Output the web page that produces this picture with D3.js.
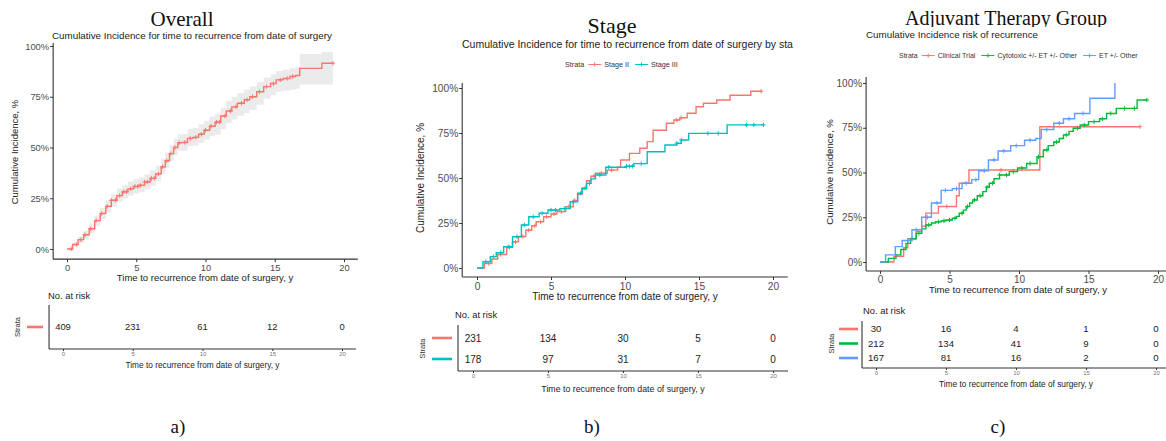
<!DOCTYPE html>
<html>
<head>
<meta charset="utf-8">
<script src="https://cdn.jsdelivr.net/npm/d3@7"></script>
<style>
  body { margin: 0; background: #fff; }
  svg { display: block; }
  text { font-family: "Liberation Sans", Arial, sans-serif; }
</style>
</head>
<body>
<svg id="chart" width="1166" height="441"></svg>
<script>
// shared axis values
let xTicks = [0, 5, 10, 15, 20]
let yTicks = [0, 0.25, 0.5, 0.75, 1]
let riskTimes = [0, 5, 10, 15, 20]

// a) overall cumulative incidence (%), with confidence band
let overallTime = [0, 0.4, 0.8, 1.2, 1.6, 2.0, 2.4, 2.8, 3.2, 3.6, 4.0, 4.4, 4.8, 5.2, 5.6, 6.0, 6.4, 6.8, 7.1, 7.4, 7.7, 8.0, 8.3, 8.7, 9.1, 9.5, 9.9, 10.3, 10.7, 11.1, 11.5, 11.9, 12.3, 12.8, 13.2, 13.7, 14.2, 14.7, 15.1, 15.6, 16.1, 16.5, 16.8, 18.4, 19.2]
let overallCI = [0, 2.2, 4.6, 7.0, 10.0, 14.0, 17.5, 21.0, 24.0, 26.3, 28.2, 29.6, 30.8, 31.4, 33.0, 34.8, 37.0, 40.5, 43.5, 47.0, 50.0, 52.3, 52.5, 54.5, 55.0, 56.5, 58.5, 60.5, 62.5, 65.5, 68.0, 70.0, 71.8, 73.5, 75.0, 77.5, 80.0, 81.5, 83.3, 84.0, 85.0, 85.5, 89.0, 91.5, 91.5]
let overallHigh = [0, 3.2, 6.2, 9.0, 12.2, 16.5, 20.2, 24.0, 27.2, 29.8, 31.7, 33.3, 34.5, 35.2, 36.7, 38.8, 41.0, 44.6, 47.5, 51.2, 54.3, 56.5, 56.6, 59.2, 59.6, 61.4, 63.2, 65.3, 66.5, 69.5, 73.0, 75.0, 76.8, 78.6, 80.0, 82.3, 84.5, 86.0, 87.7, 88.3, 89.0, 89.6, 96.0, 97.0, 97.0]
let overallLow = [0, 1.2, 3.0, 5.0, 7.8, 11.5, 14.8, 18.0, 20.8, 23.2, 24.9, 26.3, 27.4, 28.0, 29.4, 31.2, 33.6, 36.9, 39.9, 43.3, 46.2, 48.3, 48.4, 50.6, 51.0, 52.4, 54.0, 55.5, 56.3, 59.0, 62.0, 63.8, 65.5, 67.0, 68.5, 71.0, 74.0, 75.7, 77.5, 78.0, 78.5, 79.0, 81.0, 81.0, 81.0]
let overallCensor = [0.3, 0.7, 1.0, 1.3, 1.7, 2.1, 2.5, 2.9, 3.2, 3.5, 3.8, 4.1, 4.3, 4.6, 4.9, 5.1, 5.3, 5.6, 5.8, 6.1, 6.3, 6.6, 6.9, 7.2, 7.5, 7.8, 8.1, 8.5, 8.9, 9.3, 9.7, 10.0, 10.4, 10.8, 11.0, 11.4, 11.8, 12.2, 12.6, 13.0, 13.4, 13.9, 14.4, 14.9, 15.4, 15.9, 16.3, 19.2]
let overallRisk = [409, 231, 61, 12, 0]

// b) by stage
let stage2Time = [0, 0.5, 1.0, 1.4, 2.0, 2.4, 2.8, 3.3, 3.7, 4.0, 4.5, 5.0, 5.4, 6.0, 6.5, 6.8, 7.1, 7.4, 7.7, 8.0, 8.8, 9.5, 9.7, 10.3, 11.0, 11.5, 11.9, 12.8, 13.3, 13.7, 14.2, 14.8, 15.3, 16.2, 17.1, 18.5, 19.2]
let stage2CI = [0, 2.5, 5.0, 7.5, 11.5, 14.5, 17.5, 21.0, 23.5, 25.7, 28.5, 30.0, 31.3, 34.0, 37.5, 41.0, 44.5, 48.5, 51.0, 52.6, 54.4, 56.0, 60.0, 63.7, 66.5, 70.2, 76.5, 80.4, 82.2, 83.5, 86.0, 89.6, 91.5, 93.3, 96.0, 98.2, 98.2]
let stage2Censor = [0.8, 1.6, 2.2, 2.6, 3.1, 3.5, 3.9, 4.3, 4.7, 5.2, 5.7, 6.2, 6.6, 7.3, 7.9, 8.4, 9.1, 13.5, 13.8, 19.2]
let stage3Time = [0, 0.4, 0.9, 1.3, 1.8, 2.4, 3.0, 3.5, 4.2, 4.8, 5.6, 6.3, 6.8, 7.1, 7.4, 7.7, 8.0, 8.7, 10.1, 10.6, 11.5, 12.7, 13.5, 13.8, 14.3, 16.9, 19.35]
let stage3CI = [0, 3.5, 6.3, 8.5, 11.8, 17.4, 23.9, 28.5, 30.4, 32.2, 33.0, 36.8, 41.5, 44.0, 47.0, 49.5, 51.7, 56.0, 56.5, 58.0, 64.6, 68.3, 69.3, 71.1, 74.8, 79.5, 79.5]
let stage3Censor = [0.6, 1.1, 1.6, 2.1, 2.7, 3.2, 3.8, 4.4, 5.0, 5.3, 5.9, 6.5, 7.0, 7.6, 8.3, 8.9, 10.1, 10.3, 10.5, 11.1, 13.5, 13.8, 15.6, 16.3, 18.2, 18.7, 19.35]
let stage2Risk = [231, 134, 30, 5, 0]
let stage3Risk = [178, 97, 31, 7, 0]

// c) by adjuvant therapy group
let trialTime = [0, 1.0, 1.7, 2.0, 2.6, 3.0, 3.3, 4.2, 5.5, 5.7, 6.4, 11.5, 18.7]
let trialCI = [0, 3.2, 8.0, 13.0, 17.0, 20.0, 27.3, 31.0, 37.0, 44.0, 51.4, 75.6, 75.6]
let trialCensor = [4.8, 8.7, 18.7]
let cytoTime = [0, 0.6, 1.15, 1.5, 1.87, 2.2, 2.6, 3.0, 3.3, 3.7, 4.0, 4.4, 4.75, 5.2, 5.5, 5.7, 6.0, 6.2, 6.45, 6.67, 7.0, 7.4, 7.65, 7.86, 8.2, 8.6, 9.3, 9.9, 10.55, 11.3, 11.75, 12.1, 12.5, 12.9, 13.2, 13.6, 13.9, 14.4, 15.0, 15.8, 16.3, 17.0, 18.5, 19.2]
let cytoCI = [0, 2.0, 4.0, 7.0, 10.4, 13.0, 16.0, 18.5, 20.7, 21.8, 22.5, 23.0, 23.5, 24.4, 25.5, 27.2, 29.0, 31.0, 33.0, 34.6, 37.0, 39.3, 41.8, 44.0, 46.5, 48.6, 50.5, 52.5, 55.0, 58.8, 62.6, 65.0, 67.0, 69.0, 71.0, 73.0, 74.7, 76.5, 78.4, 80.0, 83.0, 85.8, 90.5, 90.5]
let cytoCensor = [2.3, 2.8, 3.5, 4.2, 4.6, 5.0, 5.4, 5.9, 6.3, 6.8, 7.2, 7.7, 8.1, 8.6, 9.1, 9.6, 10.2, 10.8, 11.4, 12.0, 12.7, 13.4, 14.2, 14.7, 15.4, 16.0, 16.6, 17.6, 18.3, 19.2]
let etTime = [0, 0.4, 1.1, 1.6, 2.3, 3.0, 3.7, 4.4, 5.2, 5.9, 6.6, 7.1, 7.8, 8.5, 9.4, 10.4, 11.2, 11.6, 12.5, 13.2, 14.0, 15.1, 16.9]
let etCI = [0, 4, 8.6, 12, 18, 25, 33, 40, 41, 44, 46, 51, 57, 62, 65, 68, 69, 74, 77.5, 80, 83, 91.5, 100]
let etCensor = [2.0, 2.6, 3.4, 4.1, 4.7, 5.5, 6.2, 6.9, 7.5, 8.2, 8.9, 9.8, 10.8, 12.0, 12.9, 13.6, 14.6]
let trialRisk = [30, 16, 4, 1, 0]
let cytoRisk = [212, 134, 41, 9, 0]
let etRisk = [167, 81, 16, 2, 0]

let red = "#F8766D", teal = "#00BFC4", green = "#00BA38", blue = "#619CFF"
let axisColor = "#333", tickColor = "#4d4d4d"
let serif = "'Liberation Serif', 'Times New Roman', serif"

let svg = d3.select("#chart")

// value of a step function at time t
function stepAt(times, values, t) {
  let i = d3.bisectRight(times, t) - 1
  return values[Math.max(0, i)]
}

function plusPath(s) {
  return `M${-s},0H${s}M0,${-s}V${s}`
}

function drawPanel(cfg) {
  let g = svg.append("g")

  let x = d3.scaleLinear().domain([0, 20]).range([cfg.x0, cfg.x20])
  let y = d3.scaleLinear().domain([0, 1]).range([cfg.y0, cfg.y100])

  // title, clipped at the bottom where the source image cut it
  let titleG = g.append("g")
  if (cfg.titleClip) {
    let id = "clip-" + cfg.key
    svg.append("clipPath").attr("id", id)
      .append("rect").attr("x", cfg.titleX - 200).attr("y", 0).attr("width", 400).attr("height", cfg.titleClip)
    titleG.attr("clip-path", `url(#${id})`)
  }
  titleG.append("text")
    .attr("x", cfg.titleX).attr("y", cfg.titleY)
    .attr("text-anchor", "middle")
    .style("font-family", serif)
    .attr("font-size", cfg.titleSize)
    .attr("fill", "#111")
    .text(cfg.title)

  g.append("text")
    .attr("x", cfg.subX).attr("y", cfg.subY)
    .attr("text-anchor", cfg.subAnchor)
    .attr("font-size", cfg.subSize)
    .attr("fill", "#222")
    .text(cfg.subtitle)

  // legend at top
  if (cfg.legendY) {
    let lg = g.append("g").attr("transform", `translate(${cfg.legendX}, ${cfg.legendY})`)
    let cx = 0
    let lab = lg.append("text").attr("x", cx).attr("font-size", cfg.legendSize).attr("fill", "#333").text("Strata")
    cx += lab.node().getComputedTextLength() + 4
    cfg.series.forEach(s => {
      lg.append("line")
        .attr("x1", cx).attr("x2", cx + 13)
        .attr("y1", -cfg.legendSize * 0.35).attr("y2", -cfg.legendSize * 0.35)
        .attr("stroke", s.color).attr("stroke-width", 1)
      lg.append("path")
        .attr("transform", `translate(${cx + 6.5}, ${-cfg.legendSize * 0.35})`)
        .attr("d", plusPath(2)).attr("stroke", s.color).attr("stroke-width", 1)
      cx += 16
      let t = lg.append("text").attr("x", cx).attr("font-size", cfg.legendSize).attr("fill", "#333").text(s.name)
      cx += t.node().getComputedTextLength() + 6
    })
  }

  // axes
  let yAxis = g.append("g")
    .attr("transform", `translate(${x(-1)}, 0)`)
    .call(d3.axisLeft(y).tickValues(yTicks).tickFormat(d3.format(".0%")).tickSize(3).tickPadding(1))
  let xAxis = g.append("g")
    .attr("transform", `translate(0, ${y(-0.05)})`)
    .call(d3.axisBottom(x).tickValues(xTicks).tickSize(3).tickPadding(cfg.xPad))
  ;[yAxis, xAxis].forEach(a => {
    a.select(".domain").remove()
    a.selectAll(".tick line").attr("stroke", axisColor)
    a.selectAll(".tick text").attr("fill", tickColor).attr("font-size", cfg.tickSize)
      .style("font-family", "'Liberation Sans', Arial, sans-serif")
  })
  g.append("line")
    .attr("x1", x(-1)).attr("x2", x(-1)).attr("y1", cfg.axisTop).attr("y2", y(-0.05))
    .attr("stroke", axisColor).attr("stroke-width", 1.1)
  g.append("line")
    .attr("x1", x(-1)).attr("x2", x(21)).attr("y1", y(-0.05)).attr("y2", y(-0.05))
    .attr("stroke", axisColor).attr("stroke-width", 1.1)

  g.append("text")
    .attr("transform", `translate(${cfg.yTitleX}, ${cfg.yTitleY}) rotate(-90)`)
    .attr("text-anchor", "middle")
    .attr("font-size", cfg.axisTitleSize)
    .attr("fill", "#222")
    .text("Cumulative Incidence, %")
  g.append("text")
    .attr("x", cfg.xTitleX).attr("y", cfg.xTitleY)
    .attr("text-anchor", "middle")
    .attr("font-size", cfg.axisTitleSize)
    .attr("fill", "#222")
    .text("Time to recurrence from date of surgery, y")

  // confidence band
  if (cfg.band) {
    let area = d3.area()
      .curve(d3.curveStepAfter)
      .x(d => x(d.t))
      .y0(d => y(d.lo / 100))
      .y1(d => y(d.hi / 100))
    let bandData = cfg.band.time.map((t, i) => ({ t: t, lo: cfg.band.low[i], hi: cfg.band.high[i] }))
    g.append("path").datum(bandData).attr("d", area).attr("fill", "#ebebeb")
  }

  // step curves and censor marks
  let line = d3.line().curve(d3.curveStepAfter).x(d => x(d.t)).y(d => y(d.v / 100))
  cfg.series.forEach(s => {
    let pts = s.time.map((t, i) => ({ t: t, v: s.ci[i] }))
    g.append("path").datum(pts)
      .attr("d", line)
      .attr("fill", "none")
      .attr("stroke", s.color)
      .attr("stroke-width", 1.4)
    g.selectAll(null)
      .data(s.censor)
      .enter()
      .append("path")
      .attr("transform", d => `translate(${x(d)}, ${y(stepAt(s.time, s.ci, d) / 100)})`)
      .attr("d", plusPath(2.2))
      .attr("stroke", s.color)
      .attr("stroke-width", 1)
  })

  // risk table
  let rx = d3.scaleLinear().domain([0, 20]).range([cfg.risk.x0, cfg.risk.x20])
  let ry = d3.scalePoint().domain(cfg.series.map(s => s.name)).range(cfg.risk.rows)

  g.append("text")
    .attr("x", cfg.risk.labelX).attr("y", cfg.risk.labelY)
    .attr("font-size", 9.4)
    .attr("fill", "#222")
    .text("No. at risk")

  g.append("line")
    .attr("x1", rx(-1)).attr("x2", rx(-1)).attr("y1", cfg.risk.top).attr("y2", cfg.risk.bottom)
    .attr("stroke", axisColor).attr("stroke-width", 1.1)
  g.append("line")
    .attr("x1", rx(-1)).attr("x2", rx(21)).attr("y1", cfg.risk.bottom).attr("y2", cfg.risk.bottom)
    .attr("stroke", axisColor).attr("stroke-width", 1.1)

  let rAxis = g.append("g")
    .attr("transform", `translate(0, ${cfg.risk.bottom})`)
    .call(d3.axisBottom(rx).tickValues(xTicks).tickSize(2).tickPadding(1))
  rAxis.select(".domain").remove()
  rAxis.selectAll(".tick line").attr("stroke", axisColor)
  rAxis.selectAll(".tick text").attr("fill", "#777").attr("font-size", 6)
    .style("font-family", "'Liberation Sans', Arial, sans-serif")

  g.append("text")
    .attr("x", rx(10)).attr("y", cfg.risk.titleY)
    .attr("text-anchor", "middle")
    .attr("font-size", cfg.risk.titleSize)
    .attr("fill", "#222")
    .text("Time to recurrence from date of surgery, y")

  g.append("text")
    .attr("transform", `translate(${cfg.risk.strataX}, ${d3.mean(cfg.risk.rows)}) rotate(-90)`)
    .attr("text-anchor", "middle")
    .attr("font-size", 7.5)
    .attr("fill", "#333")
    .text("Strata")

  cfg.series.forEach(s => {
    g.append("line")
      .attr("x1", cfg.risk.keyX[0]).attr("x2", cfg.risk.keyX[1])
      .attr("y1", ry(s.name)).attr("y2", ry(s.name))
      .attr("stroke", s.color).attr("stroke-width", 2.6)
    g.selectAll(null)
      .data(s.risk)
      .enter()
      .append("text")
      .attr("x", (d, i) => rx(riskTimes[i]))
      .attr("y", ry(s.name))
      .attr("dy", "0.36em")
      .attr("text-anchor", "middle")
      .attr("font-size", cfg.risk.numSize)
      .attr("fill", "#222")
      .text(d => d)
  })

  g.append("text")
    .attr("x", cfg.letterX).attr("y", 433)
    .attr("text-anchor", "middle")
    .style("font-family", serif)
    .attr("font-size", 19)
    .attr("fill", "#111")
    .text(cfg.letter)
}

drawPanel({
  key: "a", title: "Overall", titleX: 182, titleY: 26, titleSize: 21,
  subtitle: "Cumulative Incidence for time to recurrence from date of surgery",
  subX: 192, subY: 39, subAnchor: "middle", subSize: 9.8,
  x0: 67, x20: 344, y0: 249, y100: 46, axisTop: 43,
  tickSize: 9.4, xPad: 2, axisTitleSize: 9.5,
  yTitleX: 18, yTitleY: 152, xTitleX: 205, xTitleY: 281,
  band: { time: overallTime, low: overallLow, high: overallHigh },
  series: [{ name: "All", color: red, time: overallTime, ci: overallCI, censor: overallCensor, risk: overallRisk }],
  risk: { x0: 63, x20: 342, rows: [327, 327], top: 305, bottom: 349, labelX: 48, labelY: 299,
    titleY: 368, titleSize: 8.3, strataX: 20, keyX: [27, 43], numSize: 9.4 },
  letter: "a)", letterX: 178
})

drawPanel({
  key: "b", title: "Stage", titleX: 612, titleY: 33, titleSize: 22,
  subtitle: "Cumulative Incidence for time to recurrence from date of surgery by sta",
  subX: 462, subY: 48, subAnchor: "start", subSize: 10.5,
  legendX: 565, legendY: 67, legendSize: 7.2,
  x0: 477, x20: 773, y0: 268, y100: 88, axisTop: 83,
  tickSize: 10.2, xPad: 3, axisTitleSize: 10,
  yTitleX: 424, yTitleY: 178, xTitleX: 625, xTitleY: 300,
  series: [
    { name: "Stage II", color: red, time: stage2Time, ci: stage2CI, censor: stage2Censor, risk: stage2Risk },
    { name: "Stage III", color: teal, time: stage3Time, ci: stage3CI, censor: stage3Censor, risk: stage3Risk }
  ],
  risk: { x0: 473, x20: 773, rows: [338, 359], top: 325, bottom: 371, labelX: 455, labelY: 318,
    titleY: 392, titleSize: 8.8, strataX: 425, keyX: [432, 452], numSize: 10 },
  letter: "b)", letterX: 592
})

drawPanel({
  key: "c", title: "Adjuvant Therapy Group", titleX: 1006, titleY: 25, titleSize: 20, titleClip: 27,
  subtitle: "Cumulative Incidence risk of recurrence",
  subX: 866, subY: 38, subAnchor: "start", subSize: 9.8,
  legendX: 899, legendY: 58, legendSize: 7,
  x0: 880, x20: 1158, y0: 262, y100: 83, axisTop: 77,
  tickSize: 10, xPad: 2, axisTitleSize: 9.6,
  yTitleX: 833, yTitleY: 172, xTitleX: 1018, xTitleY: 293,
  series: [
    { name: "Clinical Trial", color: red, time: trialTime, ci: trialCI, censor: trialCensor, risk: trialRisk },
    { name: "Cytotoxic +/- ET +/- Other", color: green, time: cytoTime, ci: cytoCI, censor: cytoCensor, risk: cytoRisk },
    { name: "ET +/- Other", color: blue, time: etTime, ci: etCI, censor: etCensor, risk: etRisk }
  ],
  risk: { x0: 876, x20: 1156, rows: [329, 358], top: 321, bottom: 368, labelX: 863, labelY: 314,
    titleY: 387, titleSize: 8.3, strataX: 834, keyX: [839, 858], numSize: 9.6 },
  letter: "c)", letterX: 998
})
</script>
</body>
</html>
